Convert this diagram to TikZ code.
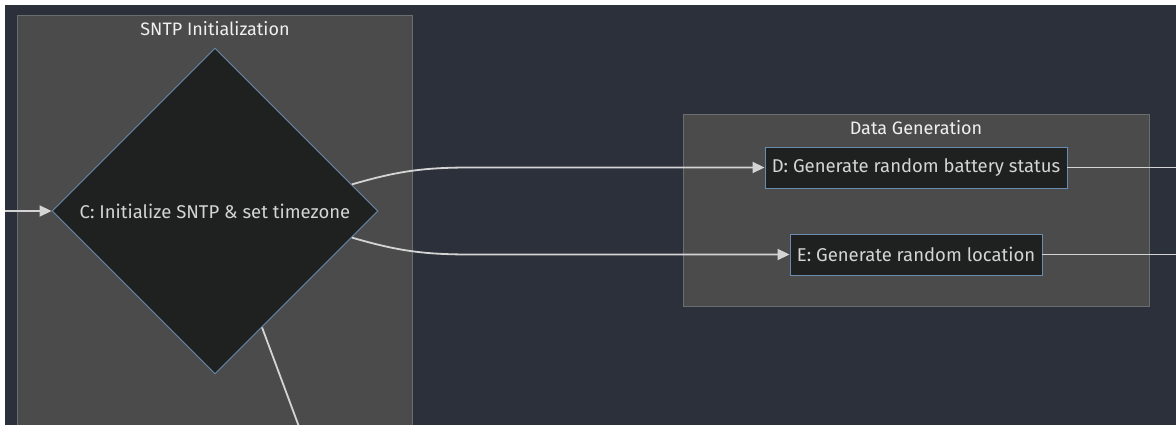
\documentclass[tikz,border=0pt]{standalone}
\usepackage{fontspec}
\setmainfont{Fira Sans}
\usetikzlibrary{shapes.geometric,arrows.meta}
\definecolor{bgdark}{HTML}{2C303B}
\definecolor{clfill}{HTML}{4A4B4A}
\definecolor{clborder}{HTML}{6A6D70}
\definecolor{nodefill}{HTML}{1F2020}
\definecolor{nodeborder}{HTML}{6B8CAE}
\definecolor{txt}{HTML}{D4D4D4}
\definecolor{ttl}{HTML}{F0F0F0}
\definecolor{edge}{HTML}{D4D4D4}
\tikzset{
  cluster/.style={draw=clborder, fill=clfill, line width=0.8pt},
  cltitle/.style={text=ttl, font=\fontsize{18}{21}\selectfont, inner sep=0pt},
  boxnode/.style={draw=nodeborder, fill=nodefill, line width=0.9pt, text=txt,
    font=\fontsize{18.5}{21}\selectfont, inner sep=0pt},
  decision/.style={diamond, draw=nodeborder, fill=nodefill, line width=0.9pt, text=txt,
    font=\fontsize{18.5}{21}\selectfont, inner sep=0pt, minimum width=326pt, minimum height=326pt},
  conn/.style={draw=edge, line width=1.8pt},
  arr/.style={conn, -{Triangle[length=12pt,width=11pt]}},
}
\begin{document}
\begin{tikzpicture}[x=1pt,y=-1pt]
\useasboundingbox (0,0) rectangle (1176,425);
\fill[white] (0,0) rectangle (1176,425);
\fill[bgdark] (5,5) rectangle (1176,425);
% clusters
\draw[cluster] (17.5,15.5) rectangle (412.5,432);
\node[cltitle] (t1) at (215,29) {SNTP Initialization};
\draw[cluster] (683.5,114.5) rectangle (1149.5,306.5);
\node[cltitle] (t2) at (916,128) {Data Generation};
% nodes
\node[decision] (C) at (215,211) {C: Initialize SNTP \& set timezone};
\node[boxnode, minimum width=302pt, minimum height=41pt] (D) at (916,167.5) {D: Generate random battery status};
\node[boxnode, minimum width=252pt, minimum height=41pt] (E) at (916,254.5) {E: Generate random location};
% free ends
\coordinate (in) at (5,211);
\coordinate (outD) at (1176,167.5);
\coordinate (outE) at (1176,254.5);
\coordinate (down) at (299.5,428);
% edges
\draw[arr] (in) -- (C.west);
\draw[arr] (C.11.7) .. controls (395,172) and (420,167.5) .. (470,167.5) -- (D.west);
\draw[arr] (C.-11.7) .. controls (395,250) and (420,254.5) .. (470,254.5) -- (E.west);
\draw[conn] (D.east) -- (outD);
\draw[conn] (E.east) -- (outE);
\draw[conn] (C.-68.5) -- (down);
\end{tikzpicture}
\end{document}
